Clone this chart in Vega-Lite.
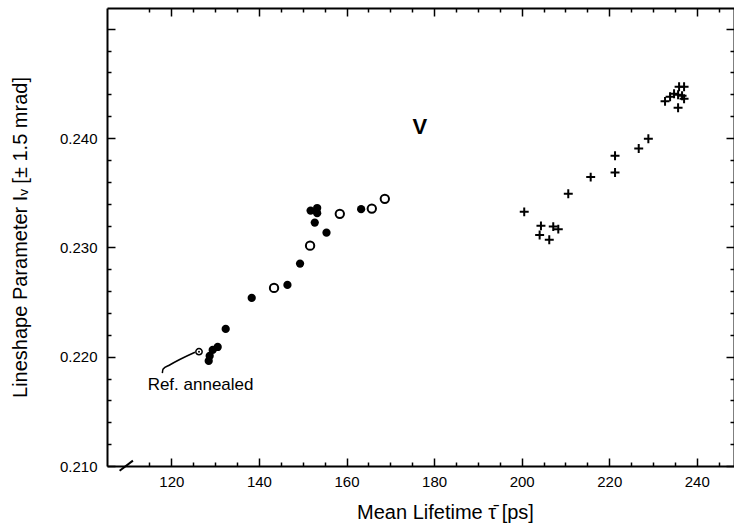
{
  "$schema": "https://vega.github.io/schema/vega-lite/v6.json",
  "width": 627,
  "height": 458,
  "autosize": {"type": "none"},
  "padding": {"left": 107, "top": 8, "right": 0, "bottom": 65},
  "background": "white",
  "config": {
    "view": {"stroke": null},
    "axis": {
      "grid": false,
      "domainColor": "black",
      "domainWidth": 2,
      "tickColor": "black",
      "tickWidth": 1.5,
      "labelColor": "black",
      "titleColor": "black",
      "labelFont": "Liberation Sans",
      "titleFont": "Liberation Sans",
      "labelFontSize": 15,
      "titleFontSize": 20,
      "titleFontWeight": "normal"
    }
  },
  "datasets": {
    "pts": [
      {"x": 153.3, "y": 0.2336, "kind": "filled"},
      {"x": 151.8, "y": 0.23337, "kind": "filled"},
      {"x": 153.3, "y": 0.23313, "kind": "filled"},
      {"x": 152.75, "y": 0.23227, "kind": "filled"},
      {"x": 155.43, "y": 0.23135, "kind": "filled"},
      {"x": 149.39, "y": 0.22852, "kind": "filled"},
      {"x": 146.51, "y": 0.22657, "kind": "filled"},
      {"x": 138.35, "y": 0.22538, "kind": "filled"},
      {"x": 132.41, "y": 0.22254, "kind": "filled"},
      {"x": 163.34, "y": 0.2335, "kind": "filled"},
      {"x": 130.58, "y": 0.22089, "kind": "filled"},
      {"x": 129.44, "y": 0.22062, "kind": "filled"},
      {"x": 128.75, "y": 0.22007, "kind": "filled"},
      {"x": 128.53, "y": 0.21961, "kind": "filled"},
      {"x": 168.75, "y": 0.23444, "kind": "open"},
      {"x": 165.78, "y": 0.23355, "kind": "open"},
      {"x": 158.47, "y": 0.23307, "kind": "open"},
      {"x": 151.68, "y": 0.23016, "kind": "open"},
      {"x": 143.45, "y": 0.22629, "kind": "open"},
      {"x": 126.31, "y": 0.22046, "kind": "ref"},
      {"x": 200.59, "y": 0.23325, "kind": "plus"},
      {"x": 204.41, "y": 0.23197, "kind": "plus"},
      {"x": 204.11, "y": 0.23114, "kind": "plus"},
      {"x": 207.22, "y": 0.2319, "kind": "plus"},
      {"x": 208.37, "y": 0.23167, "kind": "plus"},
      {"x": 206.31, "y": 0.23069, "kind": "plus"},
      {"x": 210.65, "y": 0.2349, "kind": "plus"},
      {"x": 215.77, "y": 0.23643, "kind": "plus"},
      {"x": 221.33, "y": 0.23685, "kind": "plus"},
      {"x": 221.33, "y": 0.23838, "kind": "plus"},
      {"x": 226.74, "y": 0.23904, "kind": "plus"},
      {"x": 228.94, "y": 0.23993, "kind": "plus"},
      {"x": 232.75, "y": 0.24336, "kind": "plus"},
      {"x": 233.9, "y": 0.24378, "kind": "plus"},
      {"x": 234.81, "y": 0.24405, "kind": "plus"},
      {"x": 235.73, "y": 0.24396, "kind": "plus"},
      {"x": 235.96, "y": 0.24469, "kind": "plus"},
      {"x": 237.1, "y": 0.24469, "kind": "plus"},
      {"x": 236.64, "y": 0.24387, "kind": "plus"},
      {"x": 237.1, "y": 0.24359, "kind": "plus"},
      {"x": 235.73, "y": 0.24277, "kind": "plus"}
    ],
    "leader": [
      {"x": 117.94, "y": 0.21849, "o": 1},
      {"x": 118.08, "y": 0.21885, "o": 2},
      {"x": 119.61, "y": 0.21924, "o": 3},
      {"x": 125.39, "y": 0.22041, "o": 4}
    ],
    "labels": [
      {"x": 176.75, "y": 0.24098, "text": "V", "kind": "big"},
      {"x": 114.58, "y": 0.21741, "text": "Ref. annealed", "kind": "small"}
    ],
    "brk": [
      {"x": 108.18, "y": 0.20957, "x2": 111.22, "y2": 0.21049}
    ]
  },
  "resolve": {"axis": {"x": "independent", "y": "independent"}},
  "layer": [
    {
      "data": {"name": "pts"},
      "transform": [{"filter": "datum.kind === 'filled'"}],
      "mark": {"type": "point", "shape": "circle", "filled": true, "color": "black", "size": 68, "opacity": 1},
      "encoding": {
        "x": {"field": "x", "type": "quantitative", "scale": {"domain": [105.3, 248.5], "nice": false, "zero": false},
          "axis": {"orient": "bottom", "title": "Mean Lifetime τ̄ [ps]",
            "values": [115,120,125,130,135,140,145,150,155,160,165,170,175,180,185,190,195,200,205,210,215,220,225,230,235,240,245],
            "tickSize": {"condition": {"test": "datum.value % 20 === 0", "value": -8}, "value": -4},
            "labelExpr": "datum.value % 20 === 0 ? datum.label : ''",
            "labelPadding": 16, "labelFlush": false,
            "titleX": 338, "titleY": 46, "titleBaseline": "middle", "titleAnchor": null, "titleAlign": "center"}},
        "y": {"field": "y", "type": "quantitative", "scale": {"domain": [0.21, 0.2519], "nice": false, "zero": false},
          "axis": {"orient": "left", "title": "Lineshape Parameter Iᵥ [± 1.5 mrad]",
            "values": [0.21,0.212,0.214,0.216,0.218,0.22,0.222,0.224,0.226,0.228,0.23,0.232,0.234,0.236,0.238,0.24,0.242,0.244,0.246,0.248,0.25],
            "tickSize": {"condition": {"test": "abs(datum.value*100 - round(datum.value*100)) < 0.001", "value": -8}, "value": -4},
            "labelExpr": "abs(datum.value*100 - round(datum.value*100)) < 0.001 && datum.value < 0.245 ? format(datum.value, '.3f') : ''",
            "labelPadding": 18, "labelFlush": false,
            "titleX": -87, "titleY": 229, "titleBaseline": "middle", "titleAlign": "center", "titleAngle": -90}}
      }
    },
    {
      "data": {"name": "pts"},
      "transform": [{"filter": "datum.kind === 'open'"}],
      "mark": {"type": "point", "shape": "circle", "filled": false, "color": "black", "size": 70, "strokeWidth": 2, "opacity": 1},
      "encoding": {
        "x": {"field": "x", "type": "quantitative", "scale": {"domain": [105.3, 248.5], "nice": false, "zero": false},
          "axis": {"orient": "top", "title": null, "labels": false,
            "values": [115,120,125,130,135,140,145,150,155,160,165,170,175,180,185,190,195,200,205,210,215,220,225,230,235,240,245],
            "tickSize": {"condition": {"test": "datum.value % 20 === 0", "value": -8}, "value": -4}}},
        "y": {"field": "y", "type": "quantitative", "scale": {"domain": [0.21, 0.2519], "nice": false, "zero": false},
          "axis": {"orient": "right", "title": null, "labels": false,
            "values": [0.21,0.212,0.214,0.216,0.218,0.22,0.222,0.224,0.226,0.228,0.23,0.232,0.234,0.236,0.238,0.24,0.242,0.244,0.246,0.248,0.25],
            "tickSize": {"condition": {"test": "abs(datum.value*100 - round(datum.value*100)) < 0.001", "value": -8}, "value": -4}}}
      }
    },
    {
      "data": {"name": "pts"},
      "transform": [{"filter": "datum.kind === 'plus'"}],
      "mark": {"type": "point", "shape": "M-1,0H1M0,-1V1", "filled": false, "color": "black", "size": 80, "strokeWidth": 2, "opacity": 1},
      "encoding": {
        "x": {"field": "x", "type": "quantitative", "scale": {"domain": [105.3, 248.5], "nice": false, "zero": false}, "axis": null},
        "y": {"field": "y", "type": "quantitative", "scale": {"domain": [0.21, 0.2519], "nice": false, "zero": false}, "axis": null}
      }
    },
    {
      "data": {"name": "pts"},
      "transform": [{"filter": "datum.kind === 'ref'"}],
      "mark": {"type": "point", "shape": "circle", "filled": false, "color": "black", "size": 40, "strokeWidth": 1.5, "opacity": 1},
      "encoding": {
        "x": {"field": "x", "type": "quantitative", "scale": {"domain": [105.3, 248.5], "nice": false, "zero": false}, "axis": null},
        "y": {"field": "y", "type": "quantitative", "scale": {"domain": [0.21, 0.2519], "nice": false, "zero": false}, "axis": null}
      }
    },
    {
      "data": {"name": "pts"},
      "transform": [{"filter": "datum.kind === 'ref'"}],
      "mark": {"type": "point", "shape": "circle", "filled": true, "color": "black", "size": 4, "opacity": 1},
      "encoding": {
        "x": {"field": "x", "type": "quantitative", "scale": {"domain": [105.3, 248.5], "nice": false, "zero": false}, "axis": null},
        "y": {"field": "y", "type": "quantitative", "scale": {"domain": [0.21, 0.2519], "nice": false, "zero": false}, "axis": null}
      }
    },
    {
      "data": {"name": "leader"},
      "mark": {"type": "line", "color": "black", "strokeWidth": 1.5, "interpolate": "monotone"},
      "encoding": {
        "x": {"field": "x", "type": "quantitative", "scale": {"domain": [105.3, 248.5], "nice": false, "zero": false}, "axis": null},
        "y": {"field": "y", "type": "quantitative", "scale": {"domain": [0.21, 0.2519], "nice": false, "zero": false}, "axis": null},
        "order": {"field": "o", "type": "quantitative"}
      }
    },
    {
      "data": {"name": "labels"},
      "transform": [{"filter": "datum.kind === 'big'"}],
      "mark": {"type": "text", "font": "Liberation Sans", "fontWeight": "bold", "fontSize": 22, "color": "black", "align": "center", "baseline": "middle"},
      "encoding": {
        "x": {"field": "x", "type": "quantitative", "scale": {"domain": [105.3, 248.5], "nice": false, "zero": false}, "axis": null},
        "y": {"field": "y", "type": "quantitative", "scale": {"domain": [0.21, 0.2519], "nice": false, "zero": false}, "axis": null},
        "text": {"field": "text", "type": "nominal"}
      }
    },
    {
      "data": {"name": "labels"},
      "transform": [{"filter": "datum.kind === 'small'"}],
      "mark": {"type": "text", "font": "Liberation Sans", "fontSize": 17, "color": "black", "align": "left", "baseline": "middle"},
      "encoding": {
        "x": {"field": "x", "type": "quantitative", "scale": {"domain": [105.3, 248.5], "nice": false, "zero": false}, "axis": null},
        "y": {"field": "y", "type": "quantitative", "scale": {"domain": [0.21, 0.2519], "nice": false, "zero": false}, "axis": null},
        "text": {"field": "text", "type": "nominal"}
      }
    },
    {
      "data": {"name": "brk"},
      "mark": {"type": "rule", "color": "black", "strokeWidth": 2, "clip": false},
      "encoding": {
        "x": {"field": "x", "type": "quantitative", "scale": {"domain": [105.3, 248.5], "nice": false, "zero": false}, "axis": null},
        "y": {"field": "y", "type": "quantitative", "scale": {"domain": [0.21, 0.2519], "nice": false, "zero": false}, "axis": null},
        "x2": {"field": "x2"},
        "y2": {"field": "y2"}
      }
    }
  ]
}
